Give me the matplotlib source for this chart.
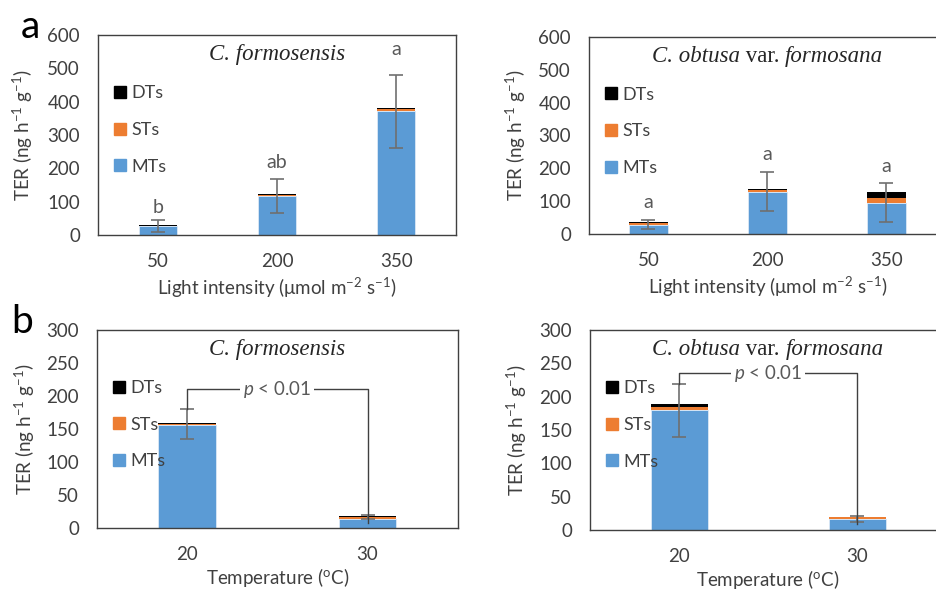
import numpy as np
import matplotlib.pyplot as plt
from matplotlib.patches import Patch

plt.rcParams['font.family'] = ['Lato', 'DejaVu Sans']
plt.rcParams['mathtext.fontset'] = 'custom'
plt.rcParams['mathtext.rm'] = 'Lato'
plt.rcParams['mathtext.it'] = 'Lato:italic'

# light intensity experiment (a)
light = ['50', '200', '350']
cf_light_mt = [27, 118, 371]
cf_light_st = [1, 2, 7]
cf_light_dt = [0.5, 2, 2]
cf_light_err_lo = [20, 55, 120]
cf_light_err_hi = [15, 45, 100]
cf_light_letters = ['b', 'ab', 'a']
cf_light_letter_y = [83, 217, 557]

co_light_mt = [28, 127, 95]
co_light_st = [5, 7, 16]
co_light_dt = [2, 3, 16]
co_light_err_lo = [20, 67, 89]
co_light_err_hi = [9, 51, 28]
co_light_letters = ['a', 'a', 'a']
co_light_letter_y = [96, 243, 206]

# temperature experiment (b)
temp = ['20', '30']
cf_temp_mt = [156, 14]
cf_temp_st = [2, 3]
cf_temp_dt = [1, 1]
cf_temp_err_lo = [24, 4]
cf_temp_err_hi = [22, 2]
cf_temp_bracket = 210

co_temp_mt = [180, 16]
co_temp_st = [4, 3]
co_temp_dt = [5, 1]
co_temp_err_lo = [49, 8]
co_temp_err_hi = [30, 1]
co_temp_bracket = 235

blue = '#5B9BD5'
orange = '#ED7D31'
dark = '#404040'
grey = '#595959'


def stacked(ax, cats, mt, st, dt, err_lo, err_hi, ymax, step, xlabel, lpad):
    x = np.arange(len(cats))
    mt, st, dt = np.array(mt), np.array(st), np.array(dt)
    ax.bar(x, mt, 0.32, color=blue, edgecolor='#dbe8f5', linewidth=0.6, zorder=2)
    ax.bar(x, st, 0.32, bottom=mt, color=orange, linewidth=0, zorder=2)
    ax.bar(x, dt, 0.32, bottom=mt + st, color='black', linewidth=0, zorder=2)
    top = mt + st + dt
    ax.errorbar(x, top, yerr=[err_lo, err_hi], fmt='none', ecolor='#6f6f6f',
                elinewidth=1.2, capsize=5, capthick=1.2, zorder=3)
    ax.set_xlim(-0.5, len(cats) - 0.5)
    ax.set_ylim(0, ymax)
    ax.set_yticks(np.arange(0, ymax + 1, step))
    ax.set_xticks(x)
    ax.set_xticklabels(cats)
    ax.tick_params(length=0, labelsize=13.5, colors=dark, pad=13)
    ax.tick_params(axis='x', pad=13)
    for s in ax.spines.values():
        s.set_color(dark)
        s.set_linewidth(1.0)
    ax.set_xlabel(xlabel, fontsize=13.5, color=dark, labelpad=lpad)
    ax.set_ylabel('TER (ng h$^{-1}$ g$^{-1}$)', fontsize=13.5, color=dark)
    handles = [Patch(color='black'), Patch(color=orange), Patch(color=blue)]
    ax.legend(handles, ['DTs', 'STs', 'MTs'], loc='upper left',
              bbox_to_anchor=(0.0, 0.83), frameon=False, fontsize=13,
              handlelength=0.65, handleheight=0.65, handletextpad=0.3,
              labelspacing=1.15, labelcolor=dark)
    return x, top


def title_text(ax, parts, y=0.9):
    # parts: list of (text, italic), laid out side by side and centred
    fig = ax.figure
    fig.canvas.draw()
    r = fig.canvas.get_renderer()
    widths = []
    texts = []
    for s, it in parts:
        t = ax.text(0, y, s, transform=ax.transAxes, fontsize=16.5,
                    family='Liberation Serif', style='italic' if it else 'normal',
                    color='#262626', va='center', ha='left')
        texts.append(t)
        widths.append(t.get_window_extent(r).width)
    total = sum(widths)
    axw = ax.get_window_extent(r)
    start = axw.x0 + axw.width * 0.5 - total / 2
    for t, w in zip(texts, widths):
        t.set_x((start - axw.x0) / axw.width)
        start += w


def bracket(ax, x, top, err_hi, yb):
    ax.plot([x[0], x[0], x[1], x[1]],
            [top[0] + err_hi[0], yb, yb, top[1] + err_hi[1] - 12],
            color=dark, linewidth=1.0, zorder=4)
    ax.text((x[0] + x[1]) / 2, yb, r'$p$ < 0.01', ha='center', va='center',
            fontsize=13.5, color=grey, zorder=5,
            bbox=dict(facecolor='white', edgecolor='none', pad=2))


fig = plt.figure(figsize=(9.37, 5.9), dpi=100)
ax1 = fig.add_axes([0.1046, 0.6017, 0.382, 0.339])
ax2 = fig.add_axes([0.6286, 0.6034, 0.381, 0.334])
ax3 = fig.add_axes([0.1035, 0.105, 0.385, 0.3356])
ax4 = fig.add_axes([0.6297, 0.1017, 0.380, 0.339])

lx = 'Light intensity (μmol m$^{-2}$ s$^{-1}$)'
tx = 'Temperature ($^{\\mathrm{o}}$C)'

x, top = stacked(ax1, light, cf_light_mt, cf_light_st, cf_light_dt,
                 cf_light_err_lo, cf_light_err_hi, 600, 100, lx, 4)
for xi, s, yy in zip(x, cf_light_letters, cf_light_letter_y):
    ax1.text(xi, yy, s, ha='center', va='center', fontsize=14, color=grey)

x, top = stacked(ax2, light, co_light_mt, co_light_st, co_light_dt,
                 co_light_err_lo, co_light_err_hi, 600, 100, lx, 4)
for xi, s, yy in zip(x, co_light_letters, co_light_letter_y):
    ax2.text(xi, yy, s, ha='center', va='center', fontsize=14, color=grey)

x, top = stacked(ax3, temp, cf_temp_mt, cf_temp_st, cf_temp_dt,
                 cf_temp_err_lo, cf_temp_err_hi, 300, 50, tx, 2)
bracket(ax3, x, top, cf_temp_err_hi, cf_temp_bracket)

x, top = stacked(ax4, temp, co_temp_mt, co_temp_st, co_temp_dt,
                 co_temp_err_lo, co_temp_err_hi, 300, 50, tx, 2)
bracket(ax4, x, top, co_temp_err_hi, co_temp_bracket)

ax1.yaxis.set_label_coords(-0.176, 0.5)
ax2.yaxis.set_label_coords(-0.171, 0.5)
ax3.yaxis.set_label_coords(-0.166, 0.5)
ax4.yaxis.set_label_coords(-0.171, 0.5)

title_text(ax1, [('C. formosensis', True)], 0.9)
title_text(ax2, [('C. obtusa', True), (' var. ', False), ('formosana', True)], 0.9)
title_text(ax3, [('C. formosensis', True)], 0.9)
title_text(ax4, [('C. obtusa', True), (' var. ', False), ('formosana', True)], 0.9)

fig.text(0.032, 0.955, 'a', fontsize=28, color='black', va='center', ha='center')
fig.text(0.024, 0.455, 'b', fontsize=28, color='black', va='center', ha='center')

fig.savefig('out.png', dpi=100)
